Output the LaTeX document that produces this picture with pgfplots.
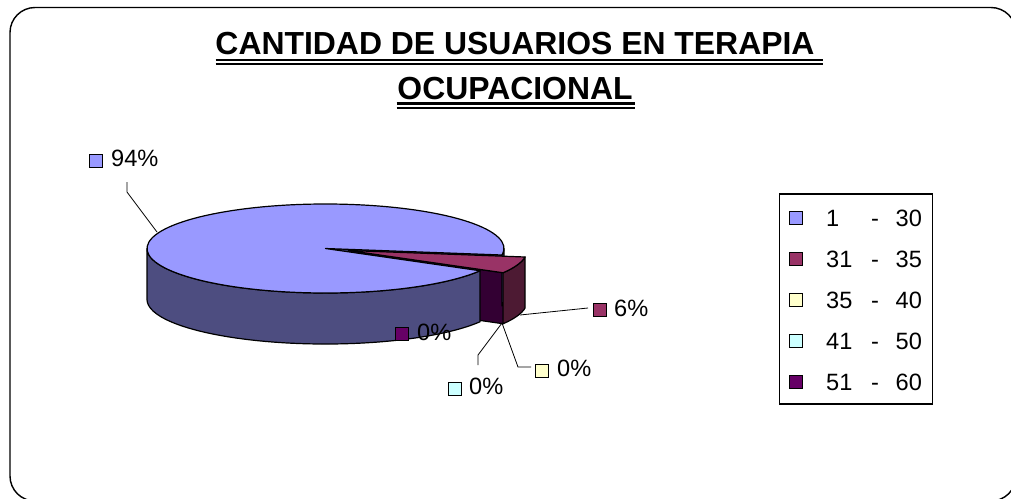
\documentclass[border=0pt]{standalone}
\usepackage{pgfplots}
\pgfplotsset{compat=1.18}
\usepackage{pgfplotstable}
\usepackage{fontspec}
\setmainfont{Liberation Sans}
\definecolor{cA}{HTML}{9999FF}
\definecolor{cAside}{HTML}{4D4D80}
\definecolor{cAwall}{HTML}{3A3A66}
\definecolor{cB}{HTML}{993366}
\definecolor{cBside}{HTML}{4D1A33}
\definecolor{cBwall}{HTML}{330033}
\definecolor{cC}{HTML}{FFFFCC}
\definecolor{cD}{HTML}{CCFFFF}
\definecolor{cE}{HTML}{660066}

\pgfplotstableread{
lo hi pct
1 30 94
31 35 6
35 40 0
41 50 0
51 60 0
}\piedata

\begin{document}
\begin{tikzpicture}
\pgfplotstablegetelem{0}{pct}\of\piedata \pgfmathsetmacro\vA{\pgfplotsretval}
\pgfplotstablegetelem{1}{pct}\of\piedata \pgfmathsetmacro\vB{\pgfplotsretval}
\def\cx{325.5}\def\cy{248.5}\def\rx{178.5}\def\ry{44.5}\def\dd{51}
\pgfmathsetmacro\aS{330}
\pgfmathsetmacro\aB{\aS-3.6*\vA}
\pgfmathsetmacro\aM{\aB-3.6*\vB}
\pgfmathsetmacro\amid{(\aB+\aM)/2}
\pgfmathsetmacro\ex{0.1365*\rx*cos(\amid)}
\pgfmathsetmacro\ey{-0.1365*\ry*sin(\amid)}
\pgfmathsetmacro\xBo{\cx+\rx*cos(\aB)}\pgfmathsetmacro\yBo{\cy-\ry*sin(\aB)}
\pgfmathsetmacro\xL{\cx-\rx}
\pgfmathsetmacro\xMc{\cx+\ex}\pgfmathsetmacro\yMc{\cy+\ey}
\pgfmathsetmacro\xMo{\cx+\ex+\rx*cos(\aM)}\pgfmathsetmacro\yMo{\cy+\ey-\ry*sin(\aM)}
\pgfmathsetmacro\cyb{\cy+\dd}
\pgfmathsetmacro\yMcb{\yMc+\dd}
\begin{axis}[
  width=1011pt, height=498pt, scale only axis,
  xmin=0, xmax=1011, ymin=0, ymax=498, y dir=reverse,
  hide axis, clip=true,
]
\addplot[draw=none] coordinates {(0,0) (1011,498)};
% outer border
\draw[line width=1.4pt, rounded corners=25pt] (axis cs:10,7.5) rectangle (axis cs:1016,501);
% title
\node[anchor=base, inner sep=0, font=\bfseries\fontsize{31.9}{32}\selectfont] at (axis cs:515,54) {CANTIDAD DE USUARIOS EN TERAPIA};
\node[anchor=base, inner sep=0, font=\bfseries\fontsize{31.9}{32}\selectfont] at (axis cs:515,99.5) {OCUPACIONAL};
\draw[line width=2.4pt] (axis cs:215.7,59.7) -- (axis cs:823,59.7);
\draw[line width=2.4pt] (axis cs:215.7,64.2) -- (axis cs:823,64.2);
\draw[line width=2.4pt] (axis cs:396.7,103.6) -- (axis cs:635,103.6);
\draw[line width=2.4pt] (axis cs:396.7,108.0) -- (axis cs:635,108.0);
% pie: blue wall at boundary
\filldraw[fill=cAwall, line width=1.2pt, line join=round] (axis cs:\cx,\cy) -- (axis cs:\xBo,\yBo) -- ++(0pt,-\dd pt) -- (axis cs:\cx,\cyb) -- cycle;
% magenta wall
\filldraw[fill=cBwall, line width=1.2pt, line join=round] (axis cs:\xMc,\yMc) -- (axis cs:\xMo,\yMo) -- ++(0pt,-\dd pt) -- (axis cs:\xMc,\yMcb) -- cycle;
% blue side
\filldraw[fill=cAside, line width=1.2pt, line join=round] (axis cs:\xL,\cy) arc[start angle=180, end angle=\aS, x radius=\rx pt, y radius=\ry pt] -- ++(0pt,-\dd pt) arc[start angle=\aS, end angle=180, x radius=\rx pt, y radius=\ry pt] -- cycle;
\filldraw[fill=cAside, line width=1.2pt, line join=round] (axis cs:\xBo,\yBo) arc[start angle=\aB, end angle=0, x radius=\rx pt, y radius=\ry pt] -- ++(0pt,-\dd pt) arc[start angle=0, end angle=\aB, x radius=\rx pt, y radius=\ry pt] -- cycle;
% blue top
\filldraw[fill=cA, line width=1.2pt, line join=round] (axis cs:\cx,\cy) -- (axis cs:\xBo,\yBo) arc[start angle=\aB, end angle=\aS, x radius=\rx pt, y radius=\ry pt] -- cycle;
% magenta side
\filldraw[fill=cBside, line width=1.2pt, line join=round] (axis cs:\xMo,\yMo) arc[start angle=\aM, end angle=\aB, x radius=\rx pt, y radius=\ry pt] -- ++(0pt,-\dd pt) arc[start angle=\aB, end angle=\aM, x radius=\rx pt, y radius=\ry pt] -- cycle;
% magenta top
\filldraw[fill=cB, line width=1.2pt, line join=round] (axis cs:\xMc,\yMc) -- (axis cs:\xMo,\yMo) arc[start angle=\aM, end angle=\aB, x radius=\rx pt, y radius=\ry pt] -- cycle;
% leader lines
\draw[line width=0.8pt] (axis cs:127,182) -- (axis cs:127,192) -- (axis cs:157,232);
\draw[line width=0.8pt] (axis cs:520,315) -- (axis cs:588,308);
\draw[line width=0.8pt] (axis cs:502,323) -- (axis cs:518,367) -- (axis cs:531,367);
\draw[line width=0.8pt] (axis cs:502,323) -- (axis cs:478,355) -- (axis cs:478,365);
% data labels
\tikzset{lab/.style={anchor=base west, inner sep=0, font=\fontsize{23.6}{24}\selectfont}}
\filldraw[fill=cA, line width=1pt] (axis cs:89.5,154) rectangle (axis cs:102.5,167);
\node[lab] at (axis cs:111,166.7) {94\%};
\filldraw[fill=cB, line width=1pt] (axis cs:593.5,303.8) rectangle (axis cs:606.5,316.8);
\node[lab] at (axis cs:614,316.5) {6\%};
\filldraw[fill=cE, line width=1pt] (axis cs:395.5,327.5) rectangle (axis cs:408.5,340.5);
\node[lab] at (axis cs:417,340.5) {0\%};
\filldraw[fill=cC, line width=1pt] (axis cs:535,364) rectangle (axis cs:548,377);
\node[lab] at (axis cs:557,376.7) {0\%};
\filldraw[fill=cD, line width=1pt] (axis cs:448.5,382) rectangle (axis cs:461.5,395);
\node[lab] at (axis cs:469,394.7) {0\%};
% legend
\draw[line width=1.2pt] (axis cs:779.3,194) rectangle (axis cs:932.3,404);
\filldraw[fill=cA, line width=1pt] (axis cs:789.3,211.5) rectangle (axis cs:802.3,224.5);
\node[lab] at (axis cs:826,226.3) {1};
\node[lab, anchor=base] at (axis cs:875,226.3) {-};
\node[lab] at (axis cs:895.5,226.3) {30};
\filldraw[fill=cB, line width=1pt] (axis cs:789.3,252.5) rectangle (axis cs:802.3,265.5);
\node[lab] at (axis cs:826,267.3) {31};
\node[lab, anchor=base] at (axis cs:875,267.3) {-};
\node[lab] at (axis cs:895.5,267.3) {35};
\filldraw[fill=cC, line width=1pt] (axis cs:789.3,293.5) rectangle (axis cs:802.3,306.5);
\node[lab] at (axis cs:826,308.3) {35};
\node[lab, anchor=base] at (axis cs:875,308.3) {-};
\node[lab] at (axis cs:895.5,308.3) {40};
\filldraw[fill=cD, line width=1pt] (axis cs:789.3,334.5) rectangle (axis cs:802.3,347.5);
\node[lab] at (axis cs:826,349.3) {41};
\node[lab, anchor=base] at (axis cs:875,349.3) {-};
\node[lab] at (axis cs:895.5,349.3) {50};
\filldraw[fill=cE, line width=1pt] (axis cs:789.3,375.5) rectangle (axis cs:802.3,388.5);
\node[lab] at (axis cs:826,390.3) {51};
\node[lab, anchor=base] at (axis cs:875,390.3) {-};
\node[lab] at (axis cs:895.5,390.3) {60};
\end{axis}
\pgfresetboundingbox
\path (0,0) rectangle (1011pt,498pt);
\end{tikzpicture}
\end{document}
